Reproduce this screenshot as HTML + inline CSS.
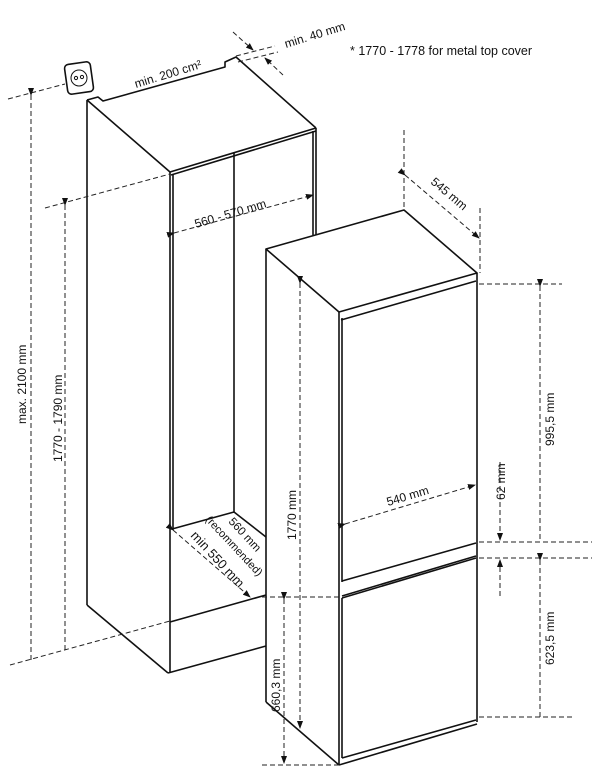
<!DOCTYPE html>
<html><head><meta charset="utf-8"><style>
html,body{margin:0;padding:0;background:#fff;}
svg{display:block;}
text{font-family:"Liberation Sans",Arial,sans-serif;fill:#111;}
</style></head><body>
<svg width="608" height="777" viewBox="0 0 608 777" xmlns="http://www.w3.org/2000/svg">
<defs>
<marker id="a" markerWidth="8" markerHeight="6" refX="7" refY="3" orient="auto" markerUnits="userSpaceOnUse"><path d="M0,0 L8,3 L0,6 Z" fill="#111"/></marker>
</defs>
<g fill="none" stroke="#111" stroke-width="1.6" stroke-linejoin="round">
<path d="M87,100 L98,97 L103,101 L225,67 L225,62 L236,57 L316,128"/>
<path d="M87,100 L170,172 L316,128"/>
<path d="M171,175 L316,131"/>
<line x1="87" y1="100" x2="87" y2="605"/>
<line x1="87" y1="605" x2="168" y2="673"/>
<line x1="170" y1="172" x2="170" y2="673"/>
<line x1="173" y1="175" x2="173" y2="530"/>
<line x1="316" y1="128" x2="316" y2="235"/>
<line x1="313" y1="131" x2="313" y2="235"/>
<line x1="234" y1="153" x2="234" y2="512"/>
<line x1="172" y1="529" x2="234" y2="512"/>
<line x1="234" y1="512" x2="266" y2="537"/>
<line x1="170" y1="622" x2="266" y2="595"/>
<line x1="168" y1="673" x2="266" y2="646"/>
<rect x="66" y="63" width="26" height="30" rx="4" transform="rotate(-8 79 78)"/>
<circle cx="79" cy="78" r="8" stroke-width="1"/>
<circle cx="76" cy="78" r="1.6" stroke-width="1"/>
<circle cx="82" cy="77" r="1.6" stroke-width="1"/>
<path d="M266,249 L404,210 L477,273 L339,312 Z" fill="#fff"/>
<line x1="266" y1="249" x2="266" y2="702"/>
<line x1="266" y1="702" x2="339" y2="765"/>
<line x1="339" y1="312" x2="339" y2="765"/>
<line x1="477" y1="273" x2="477" y2="722"/>
<line x1="339" y1="765" x2="477" y2="724"/>
<line x1="341" y1="320" x2="476" y2="281"/>
<line x1="342" y1="318" x2="342" y2="582"/>
<line x1="342" y1="581" x2="476" y2="543"/>
<line x1="342" y1="598" x2="476" y2="558"/>
<line x1="342" y1="596" x2="476" y2="556"/>
<line x1="342" y1="598" x2="342" y2="758"/>
<line x1="342" y1="758" x2="476" y2="720"/>
</g>
<g fill="none" stroke="#222" stroke-width="1" stroke-dasharray="5,3">
<line x1="8" y1="99" x2="65" y2="84"/>
<line x1="31" y1="95" x2="31" y2="662" marker-start="url(#a)"/>
<line x1="10" y1="665" x2="170" y2="621"/>
<line x1="45" y1="208" x2="170" y2="174"/>
<line x1="65" y1="205" x2="65" y2="650" marker-start="url(#a)"/>
<line x1="174" y1="233" x2="313" y2="195" marker-start="url(#a)" marker-end="url(#a)"/>
<line x1="236" y1="56" x2="275" y2="46"/>
<line x1="238" y1="62" x2="278" y2="52"/>
<line x1="233" y1="32" x2="253" y2="50" marker-end="url(#a)"/>
<line x1="283" y1="75" x2="265" y2="58" marker-end="url(#a)"/>
<line x1="404" y1="130" x2="404" y2="210"/>
<line x1="480" y1="208" x2="480" y2="273"/>
<line x1="405" y1="175" x2="479" y2="238" marker-start="url(#a)" marker-end="url(#a)"/>
<line x1="479" y1="284" x2="562" y2="284"/>
<line x1="540" y1="286" x2="540" y2="540" marker-start="url(#a)"/>
<line x1="479" y1="542" x2="592" y2="542"/>
<line x1="479" y1="558" x2="592" y2="558"/>
<line x1="500" y1="462" x2="500" y2="540" marker-end="url(#a)"/>
<line x1="500" y1="596" x2="500" y2="560" marker-end="url(#a)"/>
<line x1="540" y1="560" x2="540" y2="717" marker-start="url(#a)"/>
<line x1="479" y1="717" x2="572" y2="717"/>
<line x1="300" y1="283" x2="300" y2="728" marker-start="url(#a)" marker-end="url(#a)"/>
<line x1="262" y1="597" x2="340" y2="597"/>
<line x1="262" y1="765" x2="340" y2="765"/>
<line x1="284" y1="599" x2="284" y2="763" marker-start="url(#a)" marker-end="url(#a)"/>
<line x1="345" y1="524" x2="475" y2="485" marker-start="url(#a)" marker-end="url(#a)"/>
<line x1="173" y1="530" x2="250" y2="597" marker-start="url(#a)" marker-end="url(#a)"/>
</g>
<g font-size="12">
<text x="350" y="55" font-size="12.5">*  1770 - 1778 for metal top cover</text>
<text x="0" y="0" transform="translate(136,88) rotate(-17)">min. 200 cm²</text>
<text x="0" y="0" transform="translate(286,48) rotate(-17)">min. 40 mm</text>
<text x="0" y="0" transform="translate(196,228) rotate(-16.5)">560 - 570 mm</text>
<text x="0" y="0" transform="translate(26,424) rotate(-90)">max. 2100 mm</text>
<text x="0" y="0" transform="translate(62,462) rotate(-90)">1770 - 1790 mm</text>
<text x="0" y="0" transform="translate(430,183) rotate(40)">545 mm</text>
<text x="0" y="0" transform="translate(554,446) rotate(-90)">995,5 mm</text>
<text x="0" y="0" transform="translate(505,500) rotate(-90)">62 mm</text>
<text x="0" y="0" transform="translate(554,665) rotate(-90)">623,5 mm</text>
<text x="0" y="0" transform="translate(296,540) rotate(-90)">1770 mm</text>
<text x="0" y="0" transform="translate(280,712) rotate(-90)">660,3 mm</text>
<text x="0" y="0" transform="translate(388,506) rotate(-16.5)">540 mm</text>
<text x="0" y="0" transform="translate(228,522) rotate(47)" font-size="11.5">560 mm</text>
<text x="0" y="0" transform="translate(205,520) rotate(47)" font-size="11">(recommended)</text>
<text x="0" y="0" transform="translate(190,536) rotate(47)" font-size="13">min 550 mm</text>
</g>
</svg>
</body></html>
